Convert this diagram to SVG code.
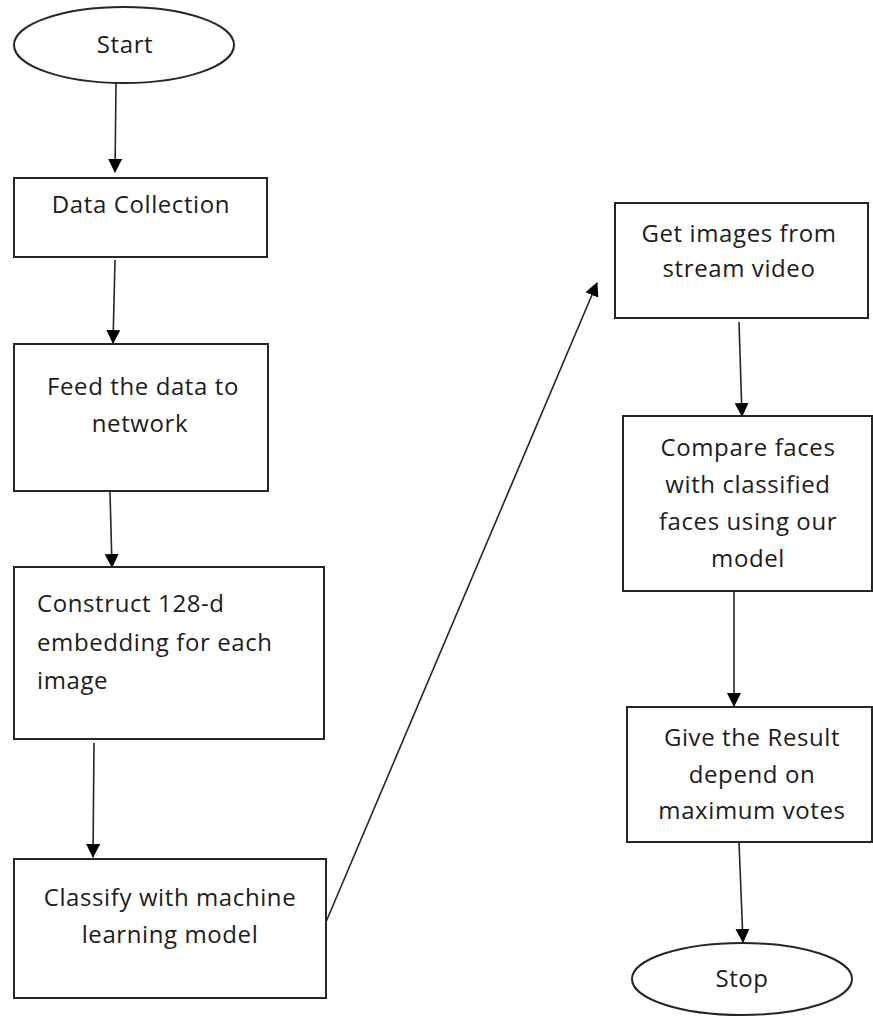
<svg xmlns="http://www.w3.org/2000/svg" width="873" height="1018" viewBox="0 0 873 1018">
<style>
.box{fill:#fff;stroke:#262626;stroke-width:2}
.t{font-family:"Open Sans","Noto Sans",sans-serif;font-size:24px;letter-spacing:0.6px;fill:#1c1c1c}
.c{text-anchor:middle}
.e{fill:none;stroke:#262626;stroke-width:1.6}
</style>
<defs>
<marker id="ah" markerUnits="userSpaceOnUse" markerWidth="14" markerHeight="14" viewBox="0 0 14 14" refX="13" refY="7" orient="auto">
<path d="M0,0 L14,7 L0,14 Z" fill="#000"/>
</marker>
</defs>
<rect width="873" height="1018" fill="#fff"/>
<g id="connectors">
<line class="e" x1="116" y1="83" x2="115" y2="172" marker-end="url(#ah)"/>
<line class="e" x1="115" y1="260" x2="113" y2="343" marker-end="url(#ah)"/>
<line class="e" x1="110" y1="492" x2="112" y2="567" marker-end="url(#ah)"/>
<line class="e" x1="94" y1="743" x2="93" y2="857" marker-end="url(#ah)"/>
<line class="e" x1="326" y1="922" x2="597" y2="283" marker-end="url(#ah)"/>
<line class="e" x1="739" y1="322" x2="742" y2="416" marker-end="url(#ah)"/>
<line class="e" x1="734" y1="592" x2="734" y2="706" marker-end="url(#ah)"/>
<line class="e" x1="739" y1="842" x2="743" y2="942" marker-end="url(#ah)"/>
</g>
<g id="start">
<ellipse class="box" cx="124" cy="45" rx="110" ry="38"/>
<text class="t c" x="125" y="53">Start</text>
</g>
<g id="data-collection">
<rect class="box" x="14" y="178" width="253" height="79"/>
<text class="t c" x="141" y="213">Data Collection</text>
</g>
<g id="feed">
<rect class="box" x="14" y="344" width="254" height="147"/>
<text class="t c" x="143" y="395">Feed the data to</text>
<text class="t c" x="140" y="432">network</text>
</g>
<g id="construct">
<rect class="box" x="14" y="567" width="310" height="172"/>
<text class="t" x="37" y="612">Construct 128-d</text>
<text class="t" x="37" y="651">embedding for each</text>
<text class="t" x="37" y="689">image</text>
</g>
<g id="classify">
<rect class="box" x="14" y="859" width="312" height="139"/>
<text class="t c" x="170" y="906">Classify with machine</text>
<text class="t c" x="170" y="943">learning model</text>
</g>
<g id="get-images">
<rect class="box" x="615" y="203" width="253" height="115"/>
<text class="t c" x="739" y="242">Get images from</text>
<text class="t c" x="739" y="277">stream video</text>
</g>
<g id="compare">
<rect class="box" x="623" y="416" width="249" height="175"/>
<text class="t c" x="748" y="456">Compare faces</text>
<text class="t c" x="748" y="493">with classified</text>
<text class="t c" x="748" y="530">faces using our</text>
<text class="t c" x="748" y="567">model</text>
</g>
<g id="result">
<rect class="box" x="627" y="707" width="245" height="135"/>
<text class="t c" x="752" y="746">Give the Result</text>
<text class="t c" x="752" y="783">depend on</text>
<text class="t c" x="752" y="819">maximum votes</text>
</g>
<g id="stop">
<ellipse class="box" cx="742" cy="979" rx="110" ry="36"/>
<text class="t c" x="742" y="987">Stop</text>
</g>
</svg>
